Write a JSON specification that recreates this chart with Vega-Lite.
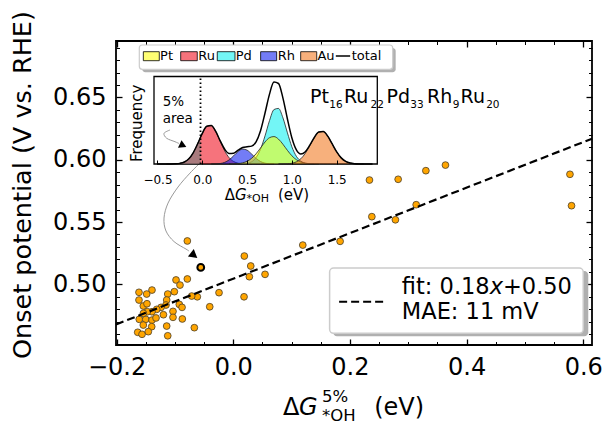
{
  "$schema": "https://vega.github.io/schema/vega-lite/v6.json",
  "width": 476,
  "height": 304,
  "autosize": "none",
  "padding": {"left": 116, "top": 41, "right": 11, "bottom": 82},
  "background": "white",
  "config": {
    "view": {"stroke": "black", "strokeWidth": 1.8},
    "axis": {"grid": false, "labelFont": "DejaVu Sans", "titleFont": "DejaVu Sans", "labelColor": "black", "titleColor": "black", "tickColor": "black", "labelOverlap": false, "labelFlush": false},
    "text": {"font": "DejaVu Sans", "color": "black"}
  },
  "datasets": {
    "one": [{}],
    "pts": [
      {"x": -0.0787, "y": 0.5348}, {"x": 0.019, "y": 0.5227}, {"x": 0.03, "y": 0.5147}, {"x": 0.0276, "y": 0.5061},
      {"x": 0.0545, "y": 0.508}, {"x": 0.0185, "y": 0.49}, {"x": -0.0244, "y": 0.4933}, {"x": -0.0403, "y": 0.482},
      {"x": -0.0667, "y": 0.4652}, {"x": -0.0616, "y": 0.49}, {"x": -0.0712, "y": 0.4906}, {"x": -0.0787, "y": 0.5043},
      {"x": -0.0981, "y": 0.5035}, {"x": -0.0913, "y": 0.4994}, {"x": -0.101, "y": 0.4941}, {"x": -0.1123, "y": 0.4922},
      {"x": -0.1393, "y": 0.4954}, {"x": -0.1484, "y": 0.4922}, {"x": -0.1616, "y": 0.4936}, {"x": -0.1616, "y": 0.4874},
      {"x": -0.1542, "y": 0.4826}, {"x": -0.1479, "y": 0.4844}, {"x": -0.1141, "y": 0.4874}, {"x": -0.1153, "y": 0.4834},
      {"x": -0.1238, "y": 0.4815}, {"x": -0.1312, "y": 0.4799}, {"x": -0.1393, "y": 0.478}, {"x": -0.1473, "y": 0.478},
      {"x": -0.1611, "y": 0.4719}, {"x": -0.1501, "y": 0.4719}, {"x": -0.1393, "y": 0.4713}, {"x": -0.1324, "y": 0.473},
      {"x": -0.1542, "y": 0.4673}, {"x": -0.1398, "y": 0.466}, {"x": -0.1638, "y": 0.4615}, {"x": -0.1564, "y": 0.4599},
      {"x": -0.1456, "y": 0.462}, {"x": -0.1123, "y": 0.4587}, {"x": -0.1141, "y": 0.4665}, {"x": -0.1033, "y": 0.4783},
      {"x": -0.1033, "y": 0.4735}, {"x": -0.0925, "y": 0.4839}, {"x": -0.0873, "y": 0.4722}, {"x": -0.0878, "y": 0.4815},
      {"x": -0.1197, "y": 0.4756}, {"x": -0.154, "y": 0.4767},
      {"x": 0.1192, "y": 0.5315}, {"x": 0.1832, "y": 0.5345}, {"x": 0.2335, "y": 0.5837}, {"x": 0.2376, "y": 0.5543},
      {"x": 0.278, "y": 0.5518}, {"x": 0.2827, "y": 0.5843}, {"x": 0.3136, "y": 0.5639}, {"x": 0.3302, "y": 0.5912},
      {"x": 0.3638, "y": 0.5957}, {"x": 0.5772, "y": 0.5883}, {"x": 0.5799, "y": 0.5631}
    ],
    "hl": [{"x": -0.0557, "y": 0.5136}],
    "fit": [{"x": -0.201, "y": 0.4678}, {"x": 0.615, "y": 0.6169}],
    "arrow": [
      {"i": 0, "x": -0.0569, "y": 0.5974}, {"i": 1, "x": -0.0741, "y": 0.5893}, {"i": 2, "x": -0.0947, "y": 0.5781},
      {"i": 3, "x": -0.1118, "y": 0.5652}, {"i": 4, "x": -0.1187, "y": 0.5532}, {"i": 5, "x": -0.1153, "y": 0.5428},
      {"i": 6, "x": -0.1015, "y": 0.5343}, {"i": 7, "x": -0.081, "y": 0.5283}, {"i": 8, "x": -0.0758, "y": 0.5267}
    ],
    "curves": [
      {"el": "Ru", "x": -0.4, "f": 0.006}, {"el": "Ru", "x": -0.35, "f": 0.036}, {"el": "Ru", "x": -0.3, "f": 0.17}, {"el": "Ru", "x": -0.25, "f": 0.64},
      {"el": "Ru", "x": -0.2, "f": 2.01}, {"el": "Ru", "x": -0.15, "f": 5.28}, {"el": "Ru", "x": -0.1, "f": 11.46}, {"el": "Ru", "x": -0.05, "f": 20.58},
      {"el": "Ru", "x": -0.02, "f": 26.72}, {"el": "Ru", "x": 0.0, "f": 30.61}, {"el": "Ru", "x": 0.05, "f": 37.7}, {"el": "Ru", "x": 0.1, "f": 38.41},
      {"el": "Ru", "x": 0.15, "f": 32.41}, {"el": "Ru", "x": 0.2, "f": 22.63}, {"el": "Ru", "x": 0.25, "f": 13.08}, {"el": "Ru", "x": 0.3, "f": 6.26},
      {"el": "Ru", "x": 0.35, "f": 2.48}, {"el": "Ru", "x": 0.4, "f": 0.81}, {"el": "Ru", "x": 0.45, "f": 0.22}, {"el": "Ru", "x": 0.5, "f": 0.05},
      {"el": "Ru", "x": 0.55, "f": 0.01},
      {"el": "Rh", "x": 0.1, "f": 0.02}, {"el": "Rh", "x": 0.15, "f": 0.12}, {"el": "Rh", "x": 0.2, "f": 0.51}, {"el": "Rh", "x": 0.25, "f": 1.65},
      {"el": "Rh", "x": 0.3, "f": 4.17}, {"el": "Rh", "x": 0.35, "f": 8.19}, {"el": "Rh", "x": 0.4, "f": 12.53}, {"el": "Rh", "x": 0.45, "f": 14.93},
      {"el": "Rh", "x": 0.5, "f": 13.85}, {"el": "Rh", "x": 0.55, "f": 10.0}, {"el": "Rh", "x": 0.6, "f": 5.63}, {"el": "Rh", "x": 0.65, "f": 2.47},
      {"el": "Rh", "x": 0.7, "f": 0.84}, {"el": "Rh", "x": 0.75, "f": 0.22}, {"el": "Rh", "x": 0.8, "f": 0.05},
      {"el": "Pt", "x": 0.3, "f": 0.04}, {"el": "Pt", "x": 0.35, "f": 0.14}, {"el": "Pt", "x": 0.4, "f": 0.42}, {"el": "Pt", "x": 0.45, "f": 1.15},
      {"el": "Pt", "x": 0.5, "f": 2.74}, {"el": "Pt", "x": 0.55, "f": 5.66}, {"el": "Pt", "x": 0.6, "f": 10.21}, {"el": "Pt", "x": 0.65, "f": 16.06},
      {"el": "Pt", "x": 0.7, "f": 22.02}, {"el": "Pt", "x": 0.75, "f": 26.32}, {"el": "Pt", "x": 0.8, "f": 27.42}, {"el": "Pt", "x": 0.85, "f": 24.92},
      {"el": "Pt", "x": 0.9, "f": 19.73}, {"el": "Pt", "x": 0.95, "f": 13.62}, {"el": "Pt", "x": 1.0, "f": 8.2}, {"el": "Pt", "x": 1.05, "f": 4.3},
      {"el": "Pt", "x": 1.1, "f": 1.97}, {"el": "Pt", "x": 1.15, "f": 0.79}, {"el": "Pt", "x": 1.2, "f": 0.27}, {"el": "Pt", "x": 1.25, "f": 0.08},
      {"el": "Pt", "x": 1.3, "f": 0.02},
      {"el": "Pd", "x": 0.4, "f": 0.03}, {"el": "Pd", "x": 0.45, "f": 0.15}, {"el": "Pd", "x": 0.5, "f": 0.63}, {"el": "Pd", "x": 0.55, "f": 2.21},
      {"el": "Pd", "x": 0.6, "f": 6.35}, {"el": "Pd", "x": 0.65, "f": 14.81}, {"el": "Pd", "x": 0.7, "f": 28.1}, {"el": "Pd", "x": 0.75, "f": 43.37},
      {"el": "Pd", "x": 0.8, "f": 54.44}, {"el": "Pd", "x": 0.85, "f": 55.57}, {"el": "Pd", "x": 0.9, "f": 46.14}, {"el": "Pd", "x": 0.95, "f": 31.17},
      {"el": "Pd", "x": 1.0, "f": 17.12}, {"el": "Pd", "x": 1.05, "f": 7.65}, {"el": "Pd", "x": 1.1, "f": 2.78}, {"el": "Pd", "x": 1.15, "f": 0.82},
      {"el": "Pd", "x": 1.2, "f": 0.2}, {"el": "Pd", "x": 1.25, "f": 0.04},
      {"el": "Au", "x": 0.85, "f": 0.01}, {"el": "Au", "x": 0.9, "f": 0.05}, {"el": "Au", "x": 0.95, "f": 0.22}, {"el": "Au", "x": 1.0, "f": 0.75},
      {"el": "Au", "x": 1.05, "f": 2.17}, {"el": "Au", "x": 1.1, "f": 5.26}, {"el": "Au", "x": 1.15, "f": 10.72}, {"el": "Au", "x": 1.2, "f": 18.35},
      {"el": "Au", "x": 1.25, "f": 26.42}, {"el": "Au", "x": 1.3, "f": 31.98}, {"el": "Au", "x": 1.35, "f": 32.54}, {"el": "Au", "x": 1.4, "f": 27.84},
      {"el": "Au", "x": 1.45, "f": 20.02}, {"el": "Au", "x": 1.5, "f": 12.1}, {"el": "Au", "x": 1.55, "f": 6.14}, {"el": "Au", "x": 1.6, "f": 2.63},
      {"el": "Au", "x": 1.65, "f": 0.94}, {"el": "Au", "x": 1.7, "f": 0.28}, {"el": "Au", "x": 1.75, "f": 0.07}, {"el": "Au", "x": 1.8, "f": 0.02}
    ],
    "total": [
      {"x": -0.5, "f": 0}, {"x": -0.45, "f": 0.001}, {"x": -0.4, "f": 0.006}, {"x": -0.35, "f": 0.036}, {"x": -0.3, "f": 0.17},
      {"x": -0.25, "f": 0.64}, {"x": -0.2, "f": 2.01}, {"x": -0.15, "f": 5.28}, {"x": -0.1, "f": 11.46}, {"x": -0.05, "f": 20.58},
      {"x": -0.02, "f": 26.72}, {"x": 0.0, "f": 30.61}, {"x": 0.05, "f": 37.7}, {"x": 0.1, "f": 38.43}, {"x": 0.15, "f": 32.53},
      {"x": 0.2, "f": 23.14}, {"x": 0.25, "f": 14.73}, {"x": 0.3, "f": 10.47}, {"x": 0.35, "f": 10.81}, {"x": 0.4, "f": 13.79},
      {"x": 0.45, "f": 16.45}, {"x": 0.5, "f": 17.27}, {"x": 0.55, "f": 17.88}, {"x": 0.6, "f": 22.19}, {"x": 0.65, "f": 33.34},
      {"x": 0.7, "f": 50.96}, {"x": 0.75, "f": 69.91}, {"x": 0.8, "f": 81.91}, {"x": 0.85, "f": 80.51}, {"x": 0.9, "f": 65.92},
      {"x": 0.95, "f": 45.01}, {"x": 1.0, "f": 26.07}, {"x": 1.05, "f": 14.12}, {"x": 1.1, "f": 10.01}, {"x": 1.15, "f": 12.33},
      {"x": 1.2, "f": 18.82}, {"x": 1.25, "f": 26.54}, {"x": 1.3, "f": 32.0}, {"x": 1.35, "f": 32.54}, {"x": 1.4, "f": 27.84},
      {"x": 1.45, "f": 20.02}, {"x": 1.5, "f": 12.1}, {"x": 1.55, "f": 6.14}, {"x": 1.6, "f": 2.63}, {"x": 1.65, "f": 0.94},
      {"x": 1.7, "f": 0.28}, {"x": 1.75, "f": 0.07}, {"x": 1.8, "f": 0.02}, {"x": 1.85, "f": 0}, {"x": 1.9, "f": 0}
    ],
    "tail": [
      {"x": -0.45, "f": 0.001}, {"x": -0.4, "f": 0.006}, {"x": -0.35, "f": 0.036}, {"x": -0.3, "f": 0.17}, {"x": -0.25, "f": 0.64},
      {"x": -0.2, "f": 2.01}, {"x": -0.15, "f": 5.28}, {"x": -0.1, "f": 11.46}, {"x": -0.05, "f": 20.58}, {"x": -0.02, "f": 26.72}
    ],
    "iarrow": [
      {"i": 0, "x": -0.36, "f": 34}, {"i": 1, "x": -0.427, "f": 30.7}, {"i": 2, "x": -0.397, "f": 25.7},
      {"i": 3, "x": -0.305, "f": 22.3}, {"i": 4, "x": -0.26, "f": 20.5}
    ],
    "swatch": [
      {"el": "Pt", "x": -0.658, "x2": -0.48}, {"el": "Ru", "x": -0.241, "x2": -0.056}, {"el": "Pd", "x": 0.167, "x2": 0.365},
      {"el": "Rh", "x": 0.651, "x2": 0.83}, {"el": "Au", "x": 1.098, "x2": 1.277}
    ],
    "leglab": [
      {"t": "Pt", "x": -0.471}, {"t": "Ru", "x": -0.045}, {"t": "Pd", "x": 0.373}, {"t": "Rh", "x": 0.842}, {"t": "Au", "x": 1.285}, {"t": "total", "x": 1.667}
    ]
  },
  "layer": [
    {
      "data": {"name": "pts"},
      "mark": {"type": "point", "filled": true, "fill": "#ffa500", "stroke": "#4a3f2a", "strokeWidth": 0.8, "size": 46, "opacity": 1},
      "encoding": {
        "x": {"field": "x", "type": "quantitative", "scale": {"domain": [-0.201, 0.615], "nice": false, "zero": false},
          "axis": {"orient": "bottom", "values": [-0.2, 0, 0.2, 0.4, 0.6], "format": ".1f", "ticks": false, "domain": false, "labelFontSize": 24, "labelPadding": 10, "title": null}},
        "y": {"field": "y", "type": "quantitative", "scale": {"domain": [0.4513, 0.6953], "nice": false, "zero": false},
          "axis": {"orient": "left", "values": [0.5, 0.55, 0.6, 0.65], "format": ".2f", "ticks": false, "domain": false, "labelFontSize": 24, "labelPadding": 10, "title": null}}
      }
    },
    {
      "data": {"name": "hl"},
      "mark": {"type": "point", "filled": true, "fill": "#ffa500", "stroke": "black", "strokeWidth": 2, "size": 46, "opacity": 1},
      "encoding": {
        "x": {"field": "x", "type": "quantitative", "scale": {"domain": [-0.201, 0.615], "nice": false, "zero": false},
          "axis": {"orient": "bottom", "values": [-0.2, 0, 0.2, 0.4, 0.6], "labels": false, "domain": false, "tickSize": -6, "tickWidth": 1.3, "title": null}},
        "y": {"field": "y", "type": "quantitative", "scale": {"domain": [0.4513, 0.6953], "nice": false, "zero": false},
          "axis": {"orient": "left", "values": [0.5, 0.55, 0.6, 0.65], "labels": false, "domain": false, "tickSize": -6, "tickWidth": 1.3, "title": null}}
      }
    },
    {
      "data": {"name": "fit"},
      "mark": {"type": "line", "color": "black", "strokeWidth": 2.2, "strokeDash": [8, 4]},
      "encoding": {
        "x": {"field": "x", "type": "quantitative", "scale": {"domain": [-0.201, 0.615], "nice": false, "zero": false},
          "axis": {"orient": "bottom", "values": [-0.15, -0.1, -0.05, 0.05, 0.1, 0.15, 0.25, 0.3, 0.35, 0.45, 0.5, 0.55], "labels": false, "domain": false, "tickSize": -3.5, "tickWidth": 1, "title": null}},
        "y": {"field": "y", "type": "quantitative", "scale": {"domain": [0.4513, 0.6953], "nice": false, "zero": false},
          "axis": {"orient": "left", "values": [0.46, 0.47, 0.48, 0.49, 0.51, 0.52, 0.53, 0.54, 0.56, 0.57, 0.58, 0.59, 0.61, 0.62, 0.63, 0.64, 0.66, 0.67, 0.68, 0.69], "labels": false, "domain": false, "tickSize": -3.5, "tickWidth": 1, "title": null}}
      }
    },
    {
      "data": {"name": "arrow"},
      "mark": {"type": "line", "color": "#999999", "strokeWidth": 1, "interpolate": "cardinal"},
      "encoding": {
        "order": {"field": "i", "type": "quantitative"},
        "x": {"field": "x", "type": "quantitative", "scale": {"domain": [-0.201, 0.615], "nice": false, "zero": false},
          "axis": {"orient": "top", "values": [-0.2, 0, 0.2, 0.4, 0.6], "labels": false, "domain": false, "tickSize": -6, "tickWidth": 1.3, "title": null}},
        "y": {"field": "y", "type": "quantitative", "scale": {"domain": [0.4513, 0.6953], "nice": false, "zero": false},
          "axis": {"orient": "right", "values": [0.5, 0.55, 0.6, 0.65], "labels": false, "domain": false, "tickSize": -6, "tickWidth": 1.3, "title": null}}
      }
    },
    {
      "data": {"values": [{"x": -0.069, "y": 0.5239}]},
      "mark": {"type": "point", "shape": "triangle", "filled": true, "color": "black", "size": 90, "angle": 128, "opacity": 1},
      "encoding": {
        "x": {"field": "x", "type": "quantitative", "scale": {"domain": [-0.201, 0.615], "nice": false, "zero": false},
          "axis": {"orient": "top", "values": [-0.15, -0.1, -0.05, 0.05, 0.1, 0.15, 0.25, 0.3, 0.35, 0.45, 0.5, 0.55], "labels": false, "domain": false, "tickSize": -3.5, "tickWidth": 1, "title": null}},
        "y": {"field": "y", "type": "quantitative", "scale": {"domain": [0.4513, 0.6953], "nice": false, "zero": false},
          "axis": {"orient": "right", "values": [0.46, 0.47, 0.48, 0.49, 0.51, 0.52, 0.53, 0.54, 0.56, 0.57, 0.58, 0.59, 0.61, 0.62, 0.63, 0.64, 0.66, 0.67, 0.68, 0.69], "labels": false, "domain": false, "tickSize": -3.5, "tickWidth": 1, "title": null}}
      }
    },
    {
      "data": {"values": [{"t": "Onset potential (V vs. RHE)", "x": -0.3606, "y": 0.5797}]},
      "mark": {"type": "text", "align": "center", "baseline": "middle", "fontSize": 25.5, "angle": 270},
      "encoding": {
        "text": {"field": "t"},
        "x": {"field": "x", "type": "quantitative", "scale": {"domain": [-0.201, 0.615], "nice": false, "zero": false}, "axis": null},
        "y": {"field": "y", "type": "quantitative", "scale": {"domain": [0.4513, 0.6953], "nice": false, "zero": false}, "axis": null}
      }
    },
    {
      "data": {"name": "one"},
      "mark": {"type": "rect", "fill": "#b0b0b0", "cornerRadius": 4},
      "encoding": {
        "x": {"datum": 0.171, "type": "quantitative", "scale": {"domain": [-0.201, 0.615], "nice": false, "zero": false}, "axis": null},
        "x2": {"datum": 0.6086},
        "y": {"datum": 0.4583, "type": "quantitative", "scale": {"domain": [0.4513, 0.6953], "nice": false, "zero": false}, "axis": null},
        "y2": {"datum": 0.5107}
      }
    },
    {
      "data": {"name": "one"},
      "mark": {"type": "rect", "fill": "white", "stroke": "#cccccc", "strokeWidth": 1.5, "cornerRadius": 4},
      "encoding": {
        "x": {"datum": 0.1652, "type": "quantitative", "scale": {"domain": [-0.201, 0.615], "nice": false, "zero": false}, "axis": null},
        "x2": {"datum": 0.6},
        "y": {"datum": 0.4607, "type": "quantitative", "scale": {"domain": [0.4513, 0.6953], "nice": false, "zero": false}, "axis": null},
        "y2": {"datum": 0.5131}
      }
    },
    {
      "data": {"name": "one"},
      "mark": {"type": "rule", "color": "black", "strokeWidth": 2.2, "strokeDash": [8, 4]},
      "encoding": {
        "x": {"datum": 0.1815, "type": "quantitative", "scale": {"domain": [-0.201, 0.615], "nice": false, "zero": false}, "axis": null},
        "x2": {"datum": 0.2576},
        "y": {"datum": 0.486, "type": "quantitative", "scale": {"domain": [0.4513, 0.6953], "nice": false, "zero": false}, "axis": null}
      }
    },
    {
      "data": {"values": [{"t": "fit: 0.18", "x": 0.289, "y": 0.4981}, {"t": "+0.50", "x": 0.4624, "y": 0.4981}, {"t": "MAE: 11 mV", "x": 0.289, "y": 0.4775}]},
      "mark": {"type": "text", "align": "left", "baseline": "middle", "fontSize": 22.5},
      "encoding": {
        "text": {"field": "t"},
        "x": {"field": "x", "type": "quantitative", "scale": {"domain": [-0.201, 0.615], "nice": false, "zero": false}, "axis": null},
        "y": {"field": "y", "type": "quantitative", "scale": {"domain": [0.4513, 0.6953], "nice": false, "zero": false}, "axis": null}
      }
    },
    {
      "data": {"values": [{"t": "x", "x": 0.4396, "y": 0.4981}]},
      "mark": {"type": "text", "align": "left", "baseline": "middle", "fontSize": 22.5, "fontStyle": "italic"},
      "encoding": {
        "text": {"field": "t"},
        "x": {"field": "x", "type": "quantitative", "scale": {"domain": [-0.201, 0.615], "nice": false, "zero": false}, "axis": null},
        "y": {"field": "y", "type": "quantitative", "scale": {"domain": [0.4513, 0.6953], "nice": false, "zero": false}, "axis": null}
      }
    },
    {
      "data": {"values": [{"t": "Δ", "x": 0.0854, "y": 0.4007}, {"t": "(eV)", "x": 0.2415, "y": 0.4007}]},
      "mark": {"type": "text", "align": "left", "baseline": "middle", "fontSize": 24},
      "encoding": {
        "text": {"field": "t"},
        "x": {"field": "x", "type": "quantitative", "scale": {"domain": [-0.201, 0.615], "nice": false, "zero": false}, "axis": null},
        "y": {"field": "y", "type": "quantitative", "scale": {"domain": [0.4513, 0.6953], "nice": false, "zero": false}, "axis": null}
      }
    },
    {
      "data": {"values": [{"t": "G", "x": 0.1129, "y": 0.4007}]},
      "mark": {"type": "text", "align": "left", "baseline": "middle", "fontSize": 24, "fontStyle": "italic"},
      "encoding": {
        "text": {"field": "t"},
        "x": {"field": "x", "type": "quantitative", "scale": {"domain": [-0.201, 0.615], "nice": false, "zero": false}, "axis": null},
        "y": {"field": "y", "type": "quantitative", "scale": {"domain": [0.4513, 0.6953], "nice": false, "zero": false}, "axis": null}
      }
    },
    {
      "data": {"values": [{"t": "5%", "x": 0.1523, "y": 0.4095}, {"t": "*OH", "x": 0.1523, "y": 0.3945}]},
      "mark": {"type": "text", "align": "left", "baseline": "middle", "fontSize": 16.5},
      "encoding": {
        "text": {"field": "t"},
        "x": {"field": "x", "type": "quantitative", "scale": {"domain": [-0.201, 0.615], "nice": false, "zero": false}, "axis": null},
        "y": {"field": "y", "type": "quantitative", "scale": {"domain": [0.4513, 0.6953], "nice": false, "zero": false}, "axis": null}
      }
    },
    {
      "data": {"name": "one"},
      "mark": {"type": "rect", "fill": "white", "stroke": "black", "strokeWidth": 1.3},
      "encoding": {
        "x": {"datum": -0.539, "type": "quantitative", "scale": {"domain": [-0.539, 1.953], "range": [38, 261.3], "nice": false, "zero": false},
          "axis": {"orient": "bottom", "offset": -181, "values": [-0.5, 0, 0.5, 1, 1.5], "format": ".1f", "labelFontSize": 12, "tickSize": -4, "tickWidth": 1, "domain": false, "labelPadding": 14, "title": null, "zindex": 1}},
        "x2": {"datum": 1.953},
        "y": {"datum": 0, "type": "quantitative", "scale": {"domain": [0, 87.5], "range": [123, 35.5], "nice": false, "zero": false}, "axis": null},
        "y2": {"datum": 87.5}
      }
    },
    {
      "data": {"name": "curves"},
      "transform": [{"filter": "datum.el === 'Ru'"}],
      "mark": {"type": "area", "fill": "#ee0010", "fillOpacity": 0.55, "stroke": "#222222", "strokeWidth": 0.8, "interpolate": "monotone"},
      "encoding": {
        "x": {"field": "x", "type": "quantitative", "scale": {"domain": [-0.539, 1.953], "range": [38, 261.3], "nice": false, "zero": false}, "axis": null},
        "y": {"field": "f", "type": "quantitative", "scale": {"domain": [0, 87.5], "range": [123, 35.5], "nice": false, "zero": false}, "axis": null},
        "y2": {"datum": 0}
      }
    },
    {
      "data": {"name": "curves"},
      "transform": [{"filter": "datum.el === 'Pd'"}],
      "mark": {"type": "area", "fill": "#00eeee", "fillOpacity": 0.55, "stroke": "#222222", "strokeWidth": 0.8, "interpolate": "monotone"},
      "encoding": {
        "x": {"field": "x", "type": "quantitative", "scale": {"domain": [-0.539, 1.953], "range": [38, 261.3], "nice": false, "zero": false}, "axis": null},
        "y": {"field": "f", "type": "quantitative", "scale": {"domain": [0, 87.5], "range": [123, 35.5], "nice": false, "zero": false}, "axis": null},
        "y2": {"datum": 0}
      }
    },
    {
      "data": {"name": "curves"},
      "transform": [{"filter": "datum.el === 'Rh'"}],
      "mark": {"type": "area", "fill": "#0010ee", "fillOpacity": 0.55, "stroke": "#222222", "strokeWidth": 0.8, "interpolate": "monotone"},
      "encoding": {
        "x": {"field": "x", "type": "quantitative", "scale": {"domain": [-0.539, 1.953], "range": [38, 261.3], "nice": false, "zero": false}, "axis": null},
        "y": {"field": "f", "type": "quantitative", "scale": {"domain": [0, 87.5], "range": [123, 35.5], "nice": false, "zero": false}, "axis": null},
        "y2": {"datum": 0}
      }
    },
    {
      "data": {"name": "curves"},
      "transform": [{"filter": "datum.el === 'Pt'"}],
      "mark": {"type": "area", "fill": "#ffff00", "fillOpacity": 0.55, "stroke": "#222222", "strokeWidth": 0.8, "interpolate": "monotone"},
      "encoding": {
        "x": {"field": "x", "type": "quantitative", "scale": {"domain": [-0.539, 1.953], "range": [38, 261.3], "nice": false, "zero": false}, "axis": null},
        "y": {"field": "f", "type": "quantitative", "scale": {"domain": [0, 87.5], "range": [123, 35.5], "nice": false, "zero": false}, "axis": null},
        "y2": {"datum": 0}
      }
    },
    {
      "data": {"name": "curves"},
      "transform": [{"filter": "datum.el === 'Au'"}],
      "mark": {"type": "area", "fill": "#f07010", "fillOpacity": 0.55, "stroke": "#222222", "strokeWidth": 0.8, "interpolate": "monotone"},
      "encoding": {
        "x": {"field": "x", "type": "quantitative", "scale": {"domain": [-0.539, 1.953], "range": [38, 261.3], "nice": false, "zero": false}, "axis": null},
        "y": {"field": "f", "type": "quantitative", "scale": {"domain": [0, 87.5], "range": [123, 35.5], "nice": false, "zero": false}, "axis": null},
        "y2": {"datum": 0}
      }
    },
    {
      "data": {"name": "tail"},
      "mark": {"type": "area", "fill": "#808080", "fillOpacity": 0.65, "interpolate": "monotone"},
      "encoding": {
        "x": {"field": "x", "type": "quantitative", "scale": {"domain": [-0.539, 1.953], "range": [38, 261.3], "nice": false, "zero": false}, "axis": null},
        "y": {"field": "f", "type": "quantitative", "scale": {"domain": [0, 87.5], "range": [123, 35.5], "nice": false, "zero": false}, "axis": null},
        "y2": {"datum": 0}
      }
    },
    {
      "data": {"name": "total"},
      "mark": {"type": "line", "color": "black", "strokeWidth": 1.5, "interpolate": "monotone"},
      "encoding": {
        "x": {"field": "x", "type": "quantitative", "scale": {"domain": [-0.539, 1.953], "range": [38, 261.3], "nice": false, "zero": false}, "axis": null},
        "y": {"field": "f", "type": "quantitative", "scale": {"domain": [0, 87.5], "range": [123, 35.5], "nice": false, "zero": false}, "axis": null}
      }
    },
    {
      "data": {"name": "one"},
      "mark": {"type": "rule", "color": "black", "strokeWidth": 1.8, "strokeDash": [1.5, 2.5]},
      "encoding": {
        "x": {"datum": -0.02, "type": "quantitative", "scale": {"domain": [-0.539, 1.953], "range": [38, 261.3], "nice": false, "zero": false}, "axis": null},
        "y": {"datum": 0, "type": "quantitative", "scale": {"domain": [0, 87.5], "range": [123, 35.5], "nice": false, "zero": false}, "axis": null},
        "y2": {"datum": 87.5}
      }
    },
    {
      "data": {"name": "iarrow"},
      "mark": {"type": "line", "color": "#999999", "strokeWidth": 1, "interpolate": "cardinal"},
      "encoding": {
        "order": {"field": "i", "type": "quantitative"},
        "x": {"field": "x", "type": "quantitative", "scale": {"domain": [-0.539, 1.953], "range": [38, 261.3], "nice": false, "zero": false}, "axis": null},
        "y": {"field": "f", "type": "quantitative", "scale": {"domain": [0, 87.5], "range": [123, 35.5], "nice": false, "zero": false}, "axis": null}
      }
    },
    {
      "data": {"values": [{"x": -0.227, "f": 19}]},
      "mark": {"type": "point", "shape": "triangle", "filled": true, "color": "black", "size": 70, "angle": 115, "opacity": 1},
      "encoding": {
        "x": {"field": "x", "type": "quantitative", "scale": {"domain": [-0.539, 1.953], "range": [38, 261.3], "nice": false, "zero": false}, "axis": null},
        "y": {"field": "f", "type": "quantitative", "scale": {"domain": [0, 87.5], "range": [123, 35.5], "nice": false, "zero": false}, "axis": null}
      }
    },
    {
      "data": {"values": [{"t": "5%", "x": -0.442, "f": 62.3}, {"t": "area", "x": -0.442, "f": 44.7}]},
      "mark": {"type": "text", "align": "left", "baseline": "middle", "fontSize": 13.5},
      "encoding": {
        "text": {"field": "t"},
        "x": {"field": "x", "type": "quantitative", "scale": {"domain": [-0.539, 1.953], "range": [38, 261.3], "nice": false, "zero": false}, "axis": null},
        "y": {"field": "f", "type": "quantitative", "scale": {"domain": [0, 87.5], "range": [123, 35.5], "nice": false, "zero": false}, "axis": null}
      }
    },
    {
      "data": {"values": [{"t": "Pt", "x": 1.202, "f": 67.3}, {"t": "Ru", "x": 1.581, "f": 67.3}, {"t": "Pd", "x": 2.056, "f": 67.3}, {"t": "Rh", "x": 2.508, "f": 67.3}, {"t": "Ru", "x": 2.882, "f": 67.3}]},
      "mark": {"type": "text", "align": "left", "baseline": "middle", "fontSize": 19},
      "encoding": {
        "text": {"field": "t"},
        "x": {"field": "x", "type": "quantitative", "scale": {"domain": [-0.539, 1.953], "range": [38, 261.3], "nice": false, "zero": false}, "axis": null},
        "y": {"field": "f", "type": "quantitative", "scale": {"domain": [0, 87.5], "range": [123, 35.5], "nice": false, "zero": false}, "axis": null}
      }
    },
    {
      "data": {"values": [{"t": "16", "x": 1.418, "f": 59}, {"t": "22", "x": 1.878, "f": 59}, {"t": "33", "x": 2.322, "f": 59}, {"t": "9", "x": 2.795, "f": 59}, {"t": "20", "x": 3.168, "f": 59}]},
      "mark": {"type": "text", "align": "left", "baseline": "middle", "fontSize": 10.5},
      "encoding": {
        "text": {"field": "t"},
        "x": {"field": "x", "type": "quantitative", "scale": {"domain": [-0.539, 1.953], "range": [38, 261.3], "nice": false, "zero": false}, "axis": null},
        "y": {"field": "f", "type": "quantitative", "scale": {"domain": [0, 87.5], "range": [123, 35.5], "nice": false, "zero": false}, "axis": null}
      }
    },
    {
      "data": {"values": [{"t": "Δ", "x": 0.25, "f": -31}, {"t": "(eV)", "x": 0.845, "f": -31}]},
      "mark": {"type": "text", "align": "left", "baseline": "middle", "fontSize": 15},
      "encoding": {
        "text": {"field": "t"},
        "x": {"field": "x", "type": "quantitative", "scale": {"domain": [-0.539, 1.953], "range": [38, 261.3], "nice": false, "zero": false}, "axis": null},
        "y": {"field": "f", "type": "quantitative", "scale": {"domain": [0, 87.5], "range": [123, 35.5], "nice": false, "zero": false}, "axis": null}
      }
    },
    {
      "data": {"values": [{"t": "G", "x": 0.366, "f": -31}]},
      "mark": {"type": "text", "align": "left", "baseline": "middle", "fontSize": 15, "fontStyle": "italic"},
      "encoding": {
        "text": {"field": "t"},
        "x": {"field": "x", "type": "quantitative", "scale": {"domain": [-0.539, 1.953], "range": [38, 261.3], "nice": false, "zero": false}, "axis": null},
        "y": {"field": "f", "type": "quantitative", "scale": {"domain": [0, 87.5], "range": [123, 35.5], "nice": false, "zero": false}, "axis": null}
      }
    },
    {
      "data": {"values": [{"t": "*OH", "x": 0.494, "f": -34.5}]},
      "mark": {"type": "text", "align": "left", "baseline": "middle", "fontSize": 11},
      "encoding": {
        "text": {"field": "t"},
        "x": {"field": "x", "type": "quantitative", "scale": {"domain": [-0.539, 1.953], "range": [38, 261.3], "nice": false, "zero": false}, "axis": null},
        "y": {"field": "f", "type": "quantitative", "scale": {"domain": [0, 87.5], "range": [123, 35.5], "nice": false, "zero": false}, "axis": null}
      }
    },
    {
      "data": {"values": [{"t": "Frequency", "x": -0.731, "f": 40.7}]},
      "mark": {"type": "text", "align": "center", "baseline": "middle", "fontSize": 15, "angle": 270},
      "encoding": {
        "text": {"field": "t"},
        "x": {"field": "x", "type": "quantitative", "scale": {"domain": [-0.539, 1.953], "range": [38, 261.3], "nice": false, "zero": false}, "axis": null},
        "y": {"field": "f", "type": "quantitative", "scale": {"domain": [0, 87.5], "range": [123, 35.5], "nice": false, "zero": false}, "axis": null}
      }
    },
    {
      "data": {"name": "one"},
      "mark": {"type": "rect", "fill": "#b0b0b0", "cornerRadius": 3},
      "encoding": {
        "x": {"datum": -0.67, "type": "quantitative", "scale": {"domain": [-0.539, 1.953], "range": [38, 261.3], "nice": false, "zero": false}, "axis": null},
        "x2": {"datum": 2.158},
        "y": {"datum": 91.7, "type": "quantitative", "scale": {"domain": [0, 87.5], "range": [123, 35.5], "nice": false, "zero": false}, "axis": null},
        "y2": {"datum": 116}
      }
    },
    {
      "data": {"name": "one"},
      "mark": {"type": "rect", "fill": "white", "stroke": "#cccccc", "strokeWidth": 1.2, "cornerRadius": 3},
      "encoding": {
        "x": {"datum": -0.703, "type": "quantitative", "scale": {"domain": [-0.539, 1.953], "range": [38, 261.3], "nice": false, "zero": false}, "axis": null},
        "x2": {"datum": 2.125},
        "y": {"datum": 94.7, "type": "quantitative", "scale": {"domain": [0, 87.5], "range": [123, 35.5], "nice": false, "zero": false}, "axis": null},
        "y2": {"datum": 119}
      }
    },
    {
      "data": {"name": "swatch"},
      "mark": {"type": "rect", "fillOpacity": 0.55, "stroke": "black", "strokeWidth": 0.8},
      "encoding": {
        "x": {"field": "x", "type": "quantitative", "scale": {"domain": [-0.539, 1.953], "range": [38, 261.3], "nice": false, "zero": false}, "axis": null},
        "x2": {"field": "x2"},
        "y": {"datum": 103.3, "type": "quantitative", "scale": {"domain": [0, 87.5], "range": [123, 35.5], "nice": false, "zero": false}, "axis": null},
        "y2": {"datum": 112.3},
        "fill": {"field": "el", "type": "nominal", "scale": {"domain": ["Pt", "Ru", "Pd", "Rh", "Au"], "range": ["#ffff00", "#ee0010", "#00eeee", "#0010ee", "#f07010"]}, "legend": null}
      }
    },
    {
      "data": {"name": "one"},
      "mark": {"type": "rule", "color": "black", "strokeWidth": 1.5},
      "encoding": {
        "x": {"datum": 1.49, "type": "quantitative", "scale": {"domain": [-0.539, 1.953], "range": [38, 261.3], "nice": false, "zero": false}, "axis": null},
        "x2": {"datum": 1.65},
        "y": {"datum": 108, "type": "quantitative", "scale": {"domain": [0, 87.5], "range": [123, 35.5], "nice": false, "zero": false}, "axis": null}
      }
    },
    {
      "data": {"name": "leglab"},
      "mark": {"type": "text", "align": "left", "baseline": "middle", "fontSize": 13},
      "encoding": {
        "text": {"field": "t"},
        "x": {"field": "x", "type": "quantitative", "scale": {"domain": [-0.539, 1.953], "range": [38, 261.3], "nice": false, "zero": false}, "axis": null},
        "y": {"datum": 108, "type": "quantitative", "scale": {"domain": [0, 87.5], "range": [123, 35.5], "nice": false, "zero": false}, "axis": null}
      }
    }
  ],
  "resolve": {"scale": {"x": "independent", "y": "independent"}, "axis": {"x": "independent", "y": "independent"}}
}
